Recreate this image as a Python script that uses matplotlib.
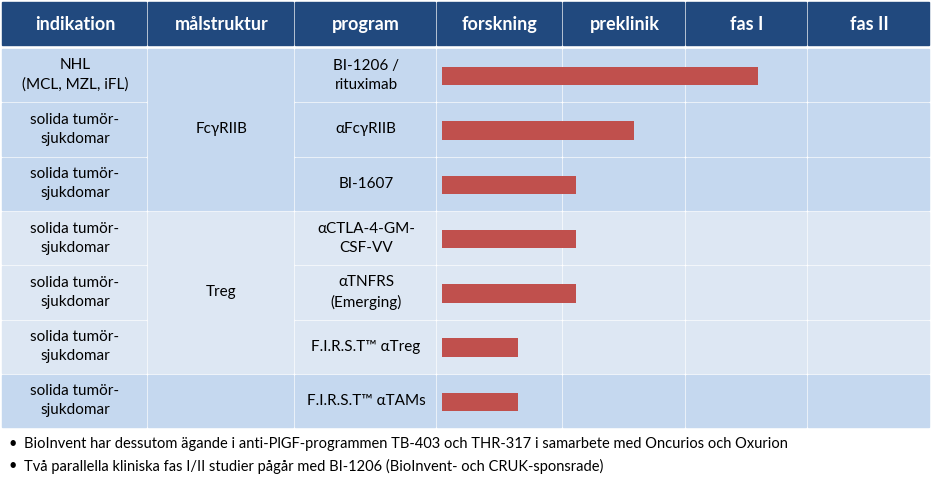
import matplotlib
matplotlib.use("Agg")
import matplotlib.pyplot as plt
from matplotlib.patches import Rectangle

headers = ["indikation", "målstruktur", "program", "forskning", "preklinik", "fas I", "fas II"]
indications = ["NHL\n(MCL, MZL, iFL)"] + ["solida tumör-\nsjukdomar"] * 6
targets = [("FcγRIIB", 0, 3), ("Treg", 3, 6), ("", 6, 7)]
programs = ["BI-1206 /\nrituximab", "αFcγRIIB", "BI-1607", "αCTLA-4-GM-\nCSF-VV",
            "αTNFRS\n(Emerging)", "F.I.R.S.T™ αTreg", "F.I.R.S.T™ αTAMs"]
progress = [2.61, 1.60, 1.13, 1.13, 1.13, 0.66, 0.66]
bar_start = 0.04
notes = ["BioInvent har dessutom ägande i anti-PlGF-programmen TB-403 och THR-317 i samarbete med Oncurios och Oxurion",
         "Två parallella kliniska fas I/II studier pågår med BI-1206 (BioInvent- och CRUK-sponsrade)"]

W, H = 933, 478
col_x = [2, 148, 295, 437, 563, 686, 808, 931]
row_tops = [49 + i * 54.3 for i in range(7)]
row_h = 54.3
dark = "#C5D8EF"
light = "#DDE7F3"
row_cols = [dark, dark, dark, light, light, light, dark]
header_col = "#21497E"
bar_col = "#C0504D"
font = "Lato"

fig = plt.figure(figsize=(W / 100, H / 100), dpi=100)
ax = fig.add_axes([0, 0, 1, 1])
ax.set_xlim(0, W)
ax.set_ylim(H, 0)
ax.axis("off")

for c in range(7):
    ax.add_patch(Rectangle((col_x[c], 2), col_x[c + 1] - col_x[c] - 2, 43, color=header_col))
    ax.text((col_x[c] + col_x[c + 1]) / 2, 24, headers[c], color="white", fontsize=13,
            fontweight="bold", ha="center", va="center", family=font)

for r in range(7):
    y0 = row_tops[r]
    for c in [0, 2, 3, 4, 5, 6]:
        ax.add_patch(Rectangle((col_x[c], y0), col_x[c + 1] - col_x[c] - 2, row_h - 2,
                               color=row_cols[r]))
    ax.text((col_x[0] + col_x[1]) / 2, y0 + row_h / 2 - 1, indications[r], fontsize=11,
            ha="center", va="center", family=font, linespacing=1.45)
    ax.text((col_x[2] + col_x[3]) / 2, y0 + row_h / 2 - 1, programs[r], fontsize=11,
            ha="center", va="center", family=font, linespacing=1.45)
for name, a, b in targets:
    y0 = row_tops[a]
    hgt = row_h * (b - a) - 2
    ax.add_patch(Rectangle((col_x[1], y0), col_x[2] - col_x[1] - 2, hgt, color=row_cols[a]))
    ax.text((col_x[1] + col_x[2]) / 2, y0 + hgt / 2, name, fontsize=11,
            ha="center", va="center", family=font)

for i, n in enumerate(notes):
    ax.text(8, 444 + i * 22, "•", fontsize=10.5, va="center", family=font)
    ax.text(24, 444 + i * 22, n, fontsize=10.5, va="center", family=font)

bx = fig.add_axes([437 / W, 1 - (row_tops[0] + 7 * row_h) / H, (931 - 437) / W, 7 * row_h / H])
bx.set_xlim(0, 4.02)
bx.set_ylim(6.5, -0.5)
bx.axis("off")
bx.patch.set_alpha(0)
bx.barh(range(7), [p - bar_start for p in progress], left=bar_start, height=0.34, color=bar_col)

fig.savefig("out.png", dpi=100)
